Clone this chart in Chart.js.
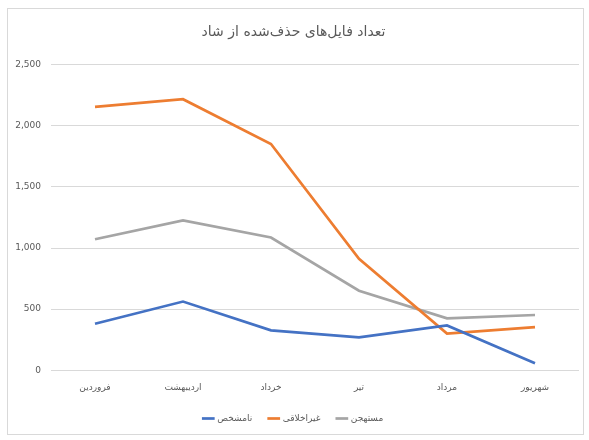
<!DOCTYPE html>
<html>
<head>
<meta charset="utf-8">
<script src="https://cdn.jsdelivr.net/npm/chart.js@4"></script>
<style>
  body { margin: 0; background: #fff; }
  #wrap { position: relative; width: 589px; height: 440px; }
  #frame { position: absolute; left: 7px; top: 8px; width: 577px; height: 427px; border: 1px solid #d9d9d9; box-sizing: border-box; }
  canvas { position: absolute; left: 0; top: 0; }
</style>
</head>
<body>
<div id="wrap">
  <div id="frame"></div>
  <canvas id="grafico" width="589" height="440"></canvas>
</div>
<script>
const titulo = 'تعداد فایل‌های حذف‌شده از شاد';
const meses = ['فروردین', 'اردیبهشت', 'خرداد', 'تیر', 'مرداد', 'شهریور'];
const nomesSeries = ['نامشخص', 'غیراخلاقی', 'مستهجن'];
const valoresNamoshakhas = [380, 562, 326, 269, 366, 57];
const valoresGheirakhlaghi = [2156, 2218, 1852, 912, 300, 352];
const valoresMostahjen = [1072, 1226, 1086, 651, 425, 452];
const ticksY = [0, 500, 1000, 1500, 2000, 2500];
const cores = ['#4472c4', '#ed7d31', '#a5a5a5'];

document.addEventListener("DOMContentLoaded", function () {
    const series = [valoresNamoshakhas, valoresGheirakhlaghi, valoresMostahjen];
    const fonte = "'DejaVu Sans', 'Liberation Sans', sans-serif";

    new Chart(document.getElementById('grafico').getContext('2d'), {
        type: 'line',
        data: {
            labels: meses,
            datasets: series.map((valores, i) => ({
                label: nomesSeries[i],
                data: valores,
                borderColor: cores[i],
                backgroundColor: cores[i],
                borderWidth: 2.7,
                pointRadius: 0,
                tension: 0,
                fill: false
            }))
        },
        options: {
            responsive: false,
            animation: false,
            layout: { padding: { left: 8, right: 10, top: 8, bottom: 7 } },
            plugins: {
                title: {
                    display: true,
                    text: titulo,
                    color: '#595959',
                    font: { family: fonte, size: 14, weight: 'normal' },
                    padding: { top: 16, bottom: 24 }
                },
                legend: {
                    position: 'bottom',
                    labels: {
                        color: '#595959',
                        font: { family: fonte, size: 9 },
                        usePointStyle: true,
                        pointStyle: 'line',
                        boxWidth: 28,
                        padding: 17
                    }
                },
                tooltip: { enabled: false }
            },
            scales: {
                x: {
                    offset: true,
                    grid: { display: false },
                    border: { display: false },
                    ticks: { color: '#595959', font: { family: fonte, size: 9 }, padding: 4 }
                },
                y: {
                    min: 0,
                    max: 2500,
                    afterBuildTicks: (scale) => { scale.ticks = ticksY.map(v => ({ value: v })); },
                    afterFit: (scale) => { scale.width = 43; },
                    grid: { color: '#d9d9d9', drawTicks: false },
                    border: { display: false },
                    ticks: {
                        color: '#595959',
                        font: { family: fonte, size: 9 },
                        padding: 10,
                        callback: (v) => v.toLocaleString('en-US')
                    }
                }
            }
        }
    });
});
</script>
</body>
</html>
